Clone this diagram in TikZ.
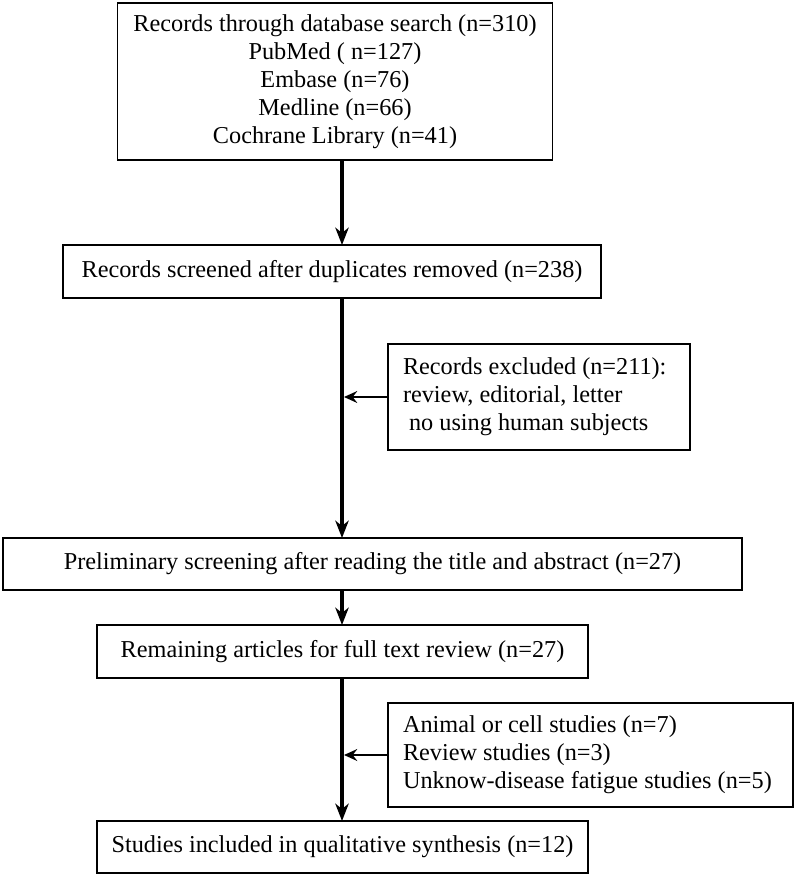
\documentclass[tikz,border=0pt]{standalone}
\usepackage{fontspec}
\setmainfont{Liberation Serif}
\usetikzlibrary{arrows.meta}
\begin{document}
\begin{tikzpicture}[x=0.75pt,y=-0.75pt,
  box/.style={draw=black, line width=1.1pt, inner sep=0pt, outer sep=0pt, font=\fontsize{18.2}{21}\selectfont},
  mainarrow/.style={line width=3pt, -{Stealth[length=13pt,width=10pt,inset=4pt]}},
  sidearrow/.style={line width=1.1pt, -{Stealth[length=10pt,width=9pt,inset=3.5pt]}}]
\useasboundingbox (0,0) rectangle (800,881);
\coordinate (m) at (342,0);
\node[box, minimum width=435*0.75pt, minimum height=157*0.75pt, align=center] (b1) at (335,81.5)
  {Records through database search (n=310)\\PubMed ( n=127)\\Embase (n=76)\\Medline (n=66)\\Cochrane Library (n=41)};
\node[box, minimum width=538*0.75pt, minimum height=53*0.75pt] (b2) at (332,271.5)
  {Records screened after duplicates removed (n=238)};
\node[box, minimum width=302*0.75pt, minimum height=106*0.75pt, align=flush left, text width=272*0.75pt] (e1) at (539,397)
  {Records excluded (n=211):\\review, editorial, letter\\\hspace*{0.25em}no using human subjects};
\node[box, minimum width=739*0.75pt, minimum height=52*0.75pt] (b3) at (372.5,564)
  {Preliminary screening after reading the title and abstract (n=27)};
\node[box, minimum width=491*0.75pt, minimum height=53*0.75pt] (b4) at (342.5,651.5)
  {Remaining articles for full text review (n=27)};
\node[box, minimum width=405*0.75pt, minimum height=104*0.75pt, align=flush left, text width=375*0.75pt] (e2) at (590.5,755)
  {Animal or cell studies (n=7)\\Review studies (n=3)\\Unknow-disease fatigue studies (n=5)};
\node[box, minimum width=491*0.75pt, minimum height=52*0.75pt] (b5) at (342.5,847)
  {Studies included in qualitative synthesis (n=12)};
\coordinate (j1) at (e1.west -| m);
\coordinate (j2) at (e2.west -| m);
\draw[mainarrow] (b1.south -| m) -- (b2.north -| m);
\draw[mainarrow] (b2.south -| m) -- (b3.north -| m);
\draw[mainarrow] (b3.south -| m) -- (b4.north -| m);
\draw[mainarrow] (b4.south -| m) -- (b5.north -| m);
\draw[sidearrow] (e1.west) -- ([xshift=1.5pt]j1);
\draw[sidearrow] (e2.west) -- ([xshift=1.5pt]j2);
\end{tikzpicture}
\end{document}
